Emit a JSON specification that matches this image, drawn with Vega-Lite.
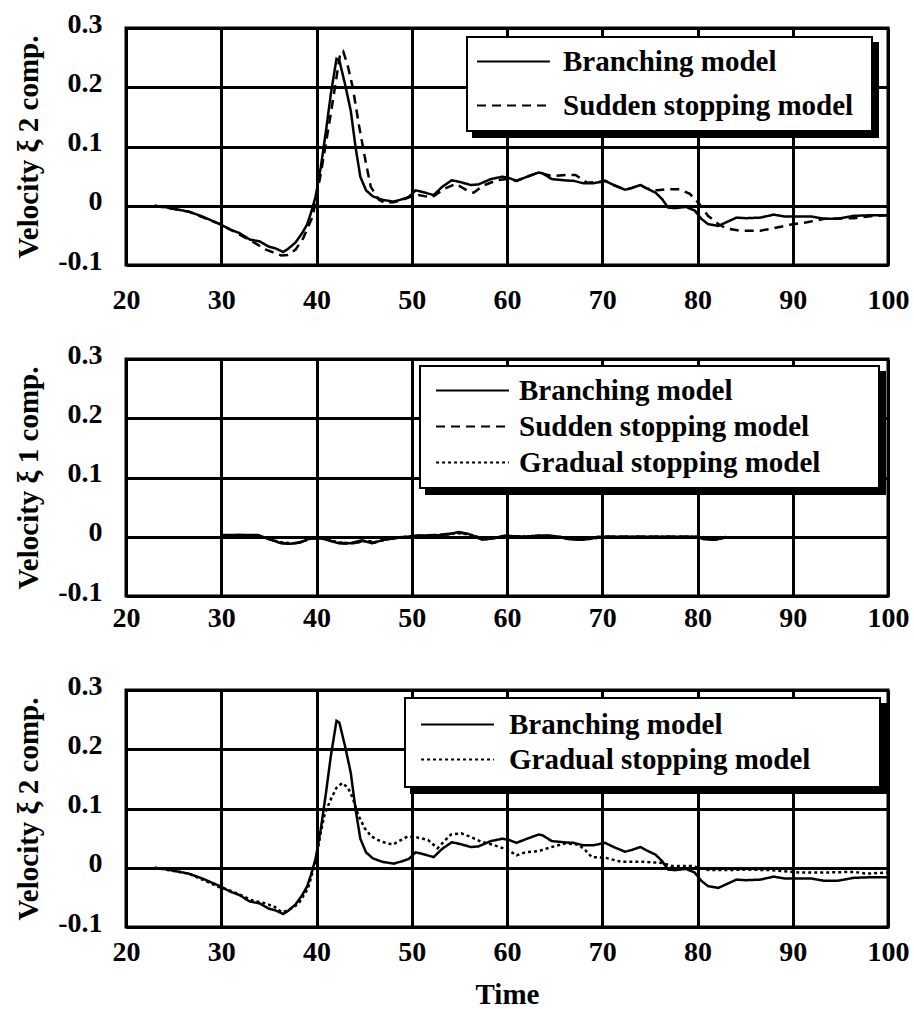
{
  "$schema": "https://vega.github.io/schema/vega-lite/v6.json",
  "padding": {"left": 13, "top": 8, "right": 5, "bottom": 5},
  "datasets": {
    "branching": [
      {"t": 23.0, "v": 0.000, "model": "Branching model"},
      {"t": 24.0, "v": -0.002, "model": "Branching model"},
      {"t": 25.0, "v": -0.005, "model": "Branching model"},
      {"t": 26.6, "v": -0.010, "model": "Branching model"},
      {"t": 28.0, "v": -0.018, "model": "Branching model"},
      {"t": 29.0, "v": -0.025, "model": "Branching model"},
      {"t": 30.0, "v": -0.032, "model": "Branching model"},
      {"t": 30.9, "v": -0.040, "model": "Branching model"},
      {"t": 31.9, "v": -0.046, "model": "Branching model"},
      {"t": 33.0, "v": -0.057, "model": "Branching model"},
      {"t": 34.0, "v": -0.060, "model": "Branching model"},
      {"t": 35.0, "v": -0.069, "model": "Branching model"},
      {"t": 35.7, "v": -0.072, "model": "Branching model"},
      {"t": 36.5, "v": -0.078, "model": "Branching model"},
      {"t": 37.0, "v": -0.073, "model": "Branching model"},
      {"t": 37.8, "v": -0.062, "model": "Branching model"},
      {"t": 38.5, "v": -0.046, "model": "Branching model"},
      {"t": 39.0, "v": -0.032, "model": "Branching model"},
      {"t": 39.4, "v": -0.013, "model": "Branching model"},
      {"t": 39.9, "v": 0.015, "model": "Branching model"},
      {"t": 40.45, "v": 0.065, "model": "Branching model"},
      {"t": 41.0, "v": 0.127, "model": "Branching model"},
      {"t": 41.5, "v": 0.188, "model": "Branching model"},
      {"t": 42.1, "v": 0.248, "model": "Branching model"},
      {"t": 42.4, "v": 0.245, "model": "Branching model"},
      {"t": 43.0, "v": 0.205, "model": "Branching model"},
      {"t": 43.6, "v": 0.160, "model": "Branching model"},
      {"t": 44.1, "v": 0.099, "model": "Branching model"},
      {"t": 44.6, "v": 0.049, "model": "Branching model"},
      {"t": 45.2, "v": 0.026, "model": "Branching model"},
      {"t": 45.9, "v": 0.016, "model": "Branching model"},
      {"t": 46.9, "v": 0.010, "model": "Branching model"},
      {"t": 48.1, "v": 0.007, "model": "Branching model"},
      {"t": 49.0, "v": 0.011, "model": "Branching model"},
      {"t": 49.7, "v": 0.015, "model": "Branching model"},
      {"t": 50.4, "v": 0.026, "model": "Branching model"},
      {"t": 51.2, "v": 0.023, "model": "Branching model"},
      {"t": 52.3, "v": 0.018, "model": "Branching model"},
      {"t": 53.2, "v": 0.032, "model": "Branching model"},
      {"t": 54.2, "v": 0.043, "model": "Branching model"},
      {"t": 55.1, "v": 0.040, "model": "Branching model"},
      {"t": 56.2, "v": 0.035, "model": "Branching model"},
      {"t": 57.0, "v": 0.036, "model": "Branching model"},
      {"t": 58.3, "v": 0.045, "model": "Branching model"},
      {"t": 59.5, "v": 0.049, "model": "Branching model"},
      {"t": 60.2, "v": 0.047, "model": "Branching model"},
      {"t": 61.0, "v": 0.042, "model": "Branching model"},
      {"t": 62.1, "v": 0.049, "model": "Branching model"},
      {"t": 63.3, "v": 0.056, "model": "Branching model"},
      {"t": 63.7, "v": 0.055, "model": "Branching model"},
      {"t": 64.7, "v": 0.045, "model": "Branching model"},
      {"t": 66.0, "v": 0.043, "model": "Branching model"},
      {"t": 67.0, "v": 0.042, "model": "Branching model"},
      {"t": 68.0, "v": 0.038, "model": "Branching model"},
      {"t": 69.1, "v": 0.038, "model": "Branching model"},
      {"t": 70.3, "v": 0.042, "model": "Branching model"},
      {"t": 71.2, "v": 0.035, "model": "Branching model"},
      {"t": 72.4, "v": 0.027, "model": "Branching model"},
      {"t": 73.1, "v": 0.030, "model": "Branching model"},
      {"t": 74.0, "v": 0.035, "model": "Branching model"},
      {"t": 74.7, "v": 0.029, "model": "Branching model"},
      {"t": 75.6, "v": 0.022, "model": "Branching model"},
      {"t": 76.3, "v": 0.011, "model": "Branching model"},
      {"t": 76.9, "v": -0.003, "model": "Branching model"},
      {"t": 77.6, "v": -0.004, "model": "Branching model"},
      {"t": 78.8, "v": -0.002, "model": "Branching model"},
      {"t": 79.7, "v": -0.008, "model": "Branching model"},
      {"t": 80.4, "v": -0.022, "model": "Branching model"},
      {"t": 81.1, "v": -0.031, "model": "Branching model"},
      {"t": 82.2, "v": -0.034, "model": "Branching model"},
      {"t": 83.0, "v": -0.028, "model": "Branching model"},
      {"t": 84.1, "v": -0.020, "model": "Branching model"},
      {"t": 85.1, "v": -0.021, "model": "Branching model"},
      {"t": 86.6, "v": -0.020, "model": "Branching model"},
      {"t": 88.0, "v": -0.015, "model": "Branching model"},
      {"t": 89.1, "v": -0.018, "model": "Branching model"},
      {"t": 90.1, "v": -0.018, "model": "Branching model"},
      {"t": 91.9, "v": -0.018, "model": "Branching model"},
      {"t": 93.3, "v": -0.022, "model": "Branching model"},
      {"t": 94.7, "v": -0.022, "model": "Branching model"},
      {"t": 96.4, "v": -0.017, "model": "Branching model"},
      {"t": 98.2, "v": -0.016, "model": "Branching model"},
      {"t": 100.0, "v": -0.016, "model": "Branching model"}
    ],
    "sudden": [
      {"t": 23.0, "v": 0.000, "model": "Sudden stopping model"},
      {"t": 26.6, "v": -0.010, "model": "Sudden stopping model"},
      {"t": 30.0, "v": -0.032, "model": "Sudden stopping model"},
      {"t": 33.0, "v": -0.058, "model": "Sudden stopping model"},
      {"t": 34.7, "v": -0.074, "model": "Sudden stopping model"},
      {"t": 36.3, "v": -0.084, "model": "Sudden stopping model"},
      {"t": 37.0, "v": -0.083, "model": "Sudden stopping model"},
      {"t": 37.8, "v": -0.074, "model": "Sudden stopping model"},
      {"t": 38.6, "v": -0.055, "model": "Sudden stopping model"},
      {"t": 39.6, "v": -0.018, "model": "Sudden stopping model"},
      {"t": 40.45, "v": 0.054, "model": "Sudden stopping model"},
      {"t": 41.5, "v": 0.155, "model": "Sudden stopping model"},
      {"t": 42.5, "v": 0.258, "model": "Sudden stopping model"},
      {"t": 42.8, "v": 0.261, "model": "Sudden stopping model"},
      {"t": 43.3, "v": 0.235, "model": "Sudden stopping model"},
      {"t": 43.8, "v": 0.200, "model": "Sudden stopping model"},
      {"t": 44.5, "v": 0.132, "model": "Sudden stopping model"},
      {"t": 45.2, "v": 0.071, "model": "Sudden stopping model"},
      {"t": 45.7, "v": 0.032, "model": "Sudden stopping model"},
      {"t": 46.55, "v": 0.010, "model": "Sudden stopping model"},
      {"t": 47.2, "v": 0.005, "model": "Sudden stopping model"},
      {"t": 48.1, "v": 0.006, "model": "Sudden stopping model"},
      {"t": 49.0, "v": 0.010, "model": "Sudden stopping model"},
      {"t": 50.0, "v": 0.016, "model": "Sudden stopping model"},
      {"t": 50.7, "v": 0.018, "model": "Sudden stopping model"},
      {"t": 52.1, "v": 0.014, "model": "Sudden stopping model"},
      {"t": 53.5, "v": 0.029, "model": "Sudden stopping model"},
      {"t": 54.6, "v": 0.037, "model": "Sudden stopping model"},
      {"t": 55.8, "v": 0.026, "model": "Sudden stopping model"},
      {"t": 56.5, "v": 0.022, "model": "Sudden stopping model"},
      {"t": 57.5, "v": 0.034, "model": "Sudden stopping model"},
      {"t": 58.95, "v": 0.043, "model": "Sudden stopping model"},
      {"t": 60.0, "v": 0.045, "model": "Sudden stopping model"},
      {"t": 61.0, "v": 0.042, "model": "Sudden stopping model"},
      {"t": 62.1, "v": 0.049, "model": "Sudden stopping model"},
      {"t": 63.3, "v": 0.056, "model": "Sudden stopping model"},
      {"t": 64.7, "v": 0.050, "model": "Sudden stopping model"},
      {"t": 66.3, "v": 0.052, "model": "Sudden stopping model"},
      {"t": 67.2, "v": 0.052, "model": "Sudden stopping model"},
      {"t": 68.4, "v": 0.039, "model": "Sudden stopping model"},
      {"t": 69.8, "v": 0.040, "model": "Sudden stopping model"},
      {"t": 70.3, "v": 0.042, "model": "Sudden stopping model"},
      {"t": 71.2, "v": 0.035, "model": "Sudden stopping model"},
      {"t": 72.4, "v": 0.027, "model": "Sudden stopping model"},
      {"t": 73.1, "v": 0.030, "model": "Sudden stopping model"},
      {"t": 74.0, "v": 0.035, "model": "Sudden stopping model"},
      {"t": 74.7, "v": 0.029, "model": "Sudden stopping model"},
      {"t": 75.8, "v": 0.026, "model": "Sudden stopping model"},
      {"t": 76.8, "v": 0.028, "model": "Sudden stopping model"},
      {"t": 78.1, "v": 0.028, "model": "Sudden stopping model"},
      {"t": 79.2, "v": 0.020, "model": "Sudden stopping model"},
      {"t": 80.2, "v": 0.003, "model": "Sudden stopping model"},
      {"t": 81.1, "v": -0.017, "model": "Sudden stopping model"},
      {"t": 82.2, "v": -0.031, "model": "Sudden stopping model"},
      {"t": 83.0, "v": -0.038, "model": "Sudden stopping model"},
      {"t": 84.4, "v": -0.042, "model": "Sudden stopping model"},
      {"t": 86.6, "v": -0.042, "model": "Sudden stopping model"},
      {"t": 88.0, "v": -0.038, "model": "Sudden stopping model"},
      {"t": 89.7, "v": -0.032, "model": "Sudden stopping model"},
      {"t": 91.5, "v": -0.028, "model": "Sudden stopping model"},
      {"t": 93.3, "v": -0.022, "model": "Sudden stopping model"},
      {"t": 96.4, "v": -0.021, "model": "Sudden stopping model"},
      {"t": 98.5, "v": -0.017, "model": "Sudden stopping model"},
      {"t": 100.0, "v": -0.016, "model": "Sudden stopping model"}
    ],
    "gradual": [
      {"t": 23.0, "v": 0.000, "model": "Gradual stopping model"},
      {"t": 26.6, "v": -0.010, "model": "Gradual stopping model"},
      {"t": 29.7, "v": -0.032, "model": "Gradual stopping model"},
      {"t": 30.8, "v": -0.038, "model": "Gradual stopping model"},
      {"t": 31.8, "v": -0.044, "model": "Gradual stopping model"},
      {"t": 33.2, "v": -0.055, "model": "Gradual stopping model"},
      {"t": 34.6, "v": -0.060, "model": "Gradual stopping model"},
      {"t": 35.6, "v": -0.066, "model": "Gradual stopping model"},
      {"t": 36.35, "v": -0.075, "model": "Gradual stopping model"},
      {"t": 37.0, "v": -0.072, "model": "Gradual stopping model"},
      {"t": 38.1, "v": -0.061, "model": "Gradual stopping model"},
      {"t": 39.1, "v": -0.035, "model": "Gradual stopping model"},
      {"t": 40.0, "v": 0.016, "model": "Gradual stopping model"},
      {"t": 40.4, "v": 0.056, "model": "Gradual stopping model"},
      {"t": 40.85, "v": 0.090, "model": "Gradual stopping model"},
      {"t": 41.4, "v": 0.112, "model": "Gradual stopping model"},
      {"t": 42.1, "v": 0.135, "model": "Gradual stopping model"},
      {"t": 42.7, "v": 0.143, "model": "Gradual stopping model"},
      {"t": 43.3, "v": 0.135, "model": "Gradual stopping model"},
      {"t": 43.8, "v": 0.118, "model": "Gradual stopping model"},
      {"t": 44.35, "v": 0.090, "model": "Gradual stopping model"},
      {"t": 45.05, "v": 0.067, "model": "Gradual stopping model"},
      {"t": 45.75, "v": 0.053, "model": "Gradual stopping model"},
      {"t": 46.8, "v": 0.044, "model": "Gradual stopping model"},
      {"t": 48.0, "v": 0.039, "model": "Gradual stopping model"},
      {"t": 48.9, "v": 0.047, "model": "Gradual stopping model"},
      {"t": 49.6, "v": 0.053, "model": "Gradual stopping model"},
      {"t": 50.6, "v": 0.051, "model": "Gradual stopping model"},
      {"t": 51.7, "v": 0.047, "model": "Gradual stopping model"},
      {"t": 52.7, "v": 0.033, "model": "Gradual stopping model"},
      {"t": 54.1, "v": 0.056, "model": "Gradual stopping model"},
      {"t": 55.2, "v": 0.058, "model": "Gradual stopping model"},
      {"t": 56.2, "v": 0.052, "model": "Gradual stopping model"},
      {"t": 57.3, "v": 0.044, "model": "Gradual stopping model"},
      {"t": 58.7, "v": 0.038, "model": "Gradual stopping model"},
      {"t": 60.1, "v": 0.030, "model": "Gradual stopping model"},
      {"t": 61.0, "v": 0.021, "model": "Gradual stopping model"},
      {"t": 61.9, "v": 0.026, "model": "Gradual stopping model"},
      {"t": 63.3, "v": 0.028, "model": "Gradual stopping model"},
      {"t": 64.7, "v": 0.035, "model": "Gradual stopping model"},
      {"t": 66.1, "v": 0.041, "model": "Gradual stopping model"},
      {"t": 67.5, "v": 0.039, "model": "Gradual stopping model"},
      {"t": 68.2, "v": 0.030, "model": "Gradual stopping model"},
      {"t": 68.9, "v": 0.018, "model": "Gradual stopping model"},
      {"t": 70.3, "v": 0.017, "model": "Gradual stopping model"},
      {"t": 72.0, "v": 0.010, "model": "Gradual stopping model"},
      {"t": 74.5, "v": 0.010, "model": "Gradual stopping model"},
      {"t": 76.3, "v": 0.008, "model": "Gradual stopping model"},
      {"t": 77.3, "v": 0.003, "model": "Gradual stopping model"},
      {"t": 79.4, "v": 0.003, "model": "Gradual stopping model"},
      {"t": 81.2, "v": -0.004, "model": "Gradual stopping model"},
      {"t": 83.0, "v": -0.004, "model": "Gradual stopping model"},
      {"t": 85.1, "v": -0.003, "model": "Gradual stopping model"},
      {"t": 87.6, "v": -0.004, "model": "Gradual stopping model"},
      {"t": 90.7, "v": -0.008, "model": "Gradual stopping model"},
      {"t": 93.6, "v": -0.008, "model": "Gradual stopping model"},
      {"t": 96.4, "v": -0.007, "model": "Gradual stopping model"},
      {"t": 97.8, "v": -0.010, "model": "Gradual stopping model"},
      {"t": 100.0, "v": -0.008, "model": "Gradual stopping model"}
    ],
    "xi1": [
      {"t": 30.0, "v": 0.003, "model": "Branching model"},
      {"t": 32.0, "v": 0.003, "model": "Branching model"},
      {"t": 33.8, "v": 0.003, "model": "Branching model"},
      {"t": 34.7, "v": -0.002, "model": "Branching model"},
      {"t": 36.1, "v": -0.010, "model": "Branching model"},
      {"t": 37.2, "v": -0.012, "model": "Branching model"},
      {"t": 38.2, "v": -0.010, "model": "Branching model"},
      {"t": 39.3, "v": -0.003, "model": "Branching model"},
      {"t": 40.7, "v": -0.003, "model": "Branching model"},
      {"t": 42.1, "v": -0.010, "model": "Branching model"},
      {"t": 43.5, "v": -0.011, "model": "Branching model"},
      {"t": 44.8, "v": -0.006, "model": "Branching model"},
      {"t": 45.8, "v": -0.011, "model": "Branching model"},
      {"t": 47.1, "v": -0.005, "model": "Branching model"},
      {"t": 48.5, "v": -0.002, "model": "Branching model"},
      {"t": 50.6, "v": 0.002, "model": "Branching model"},
      {"t": 52.4, "v": 0.002, "model": "Branching model"},
      {"t": 53.8, "v": 0.004, "model": "Branching model"},
      {"t": 54.9, "v": 0.008, "model": "Branching model"},
      {"t": 55.9, "v": 0.005, "model": "Branching model"},
      {"t": 57.4, "v": -0.005, "model": "Branching model"},
      {"t": 58.4, "v": -0.003, "model": "Branching model"},
      {"t": 59.8, "v": 0.002, "model": "Branching model"},
      {"t": 61.5, "v": 0.000, "model": "Branching model"},
      {"t": 63.4, "v": 0.002, "model": "Branching model"},
      {"t": 64.5, "v": 0.002, "model": "Branching model"},
      {"t": 65.5, "v": 0.000, "model": "Branching model"},
      {"t": 66.5, "v": -0.004, "model": "Branching model"},
      {"t": 67.5, "v": -0.005, "model": "Branching model"},
      {"t": 68.6, "v": -0.004, "model": "Branching model"},
      {"t": 69.5, "v": 0.000, "model": "Branching model"},
      {"t": 75.0, "v": 0.000, "model": "Branching model"},
      {"t": 80.0, "v": 0.000, "model": "Branching model"},
      {"t": 80.6, "v": -0.004, "model": "Branching model"},
      {"t": 81.5, "v": -0.005, "model": "Branching model"},
      {"t": 82.6, "v": -0.003, "model": "Branching model"},
      {"t": 83.0, "v": 0.000, "model": "Branching model"},
      {"t": 30.0, "v": 0.002, "model": "Sudden stopping model"},
      {"t": 32.0, "v": 0.003, "model": "Sudden stopping model"},
      {"t": 34.0, "v": 0.002, "model": "Sudden stopping model"},
      {"t": 35.0, "v": -0.004, "model": "Sudden stopping model"},
      {"t": 36.3, "v": -0.011, "model": "Sudden stopping model"},
      {"t": 37.4, "v": -0.012, "model": "Sudden stopping model"},
      {"t": 38.4, "v": -0.009, "model": "Sudden stopping model"},
      {"t": 39.5, "v": -0.002, "model": "Sudden stopping model"},
      {"t": 40.9, "v": -0.004, "model": "Sudden stopping model"},
      {"t": 42.3, "v": -0.011, "model": "Sudden stopping model"},
      {"t": 43.6, "v": -0.012, "model": "Sudden stopping model"},
      {"t": 45.0, "v": -0.007, "model": "Sudden stopping model"},
      {"t": 46.0, "v": -0.010, "model": "Sudden stopping model"},
      {"t": 47.3, "v": -0.004, "model": "Sudden stopping model"},
      {"t": 48.7, "v": -0.001, "model": "Sudden stopping model"},
      {"t": 50.8, "v": 0.002, "model": "Sudden stopping model"},
      {"t": 52.6, "v": 0.003, "model": "Sudden stopping model"},
      {"t": 54.0, "v": 0.005, "model": "Sudden stopping model"},
      {"t": 55.0, "v": 0.007, "model": "Sudden stopping model"},
      {"t": 56.1, "v": 0.004, "model": "Sudden stopping model"},
      {"t": 57.5, "v": -0.005, "model": "Sudden stopping model"},
      {"t": 58.6, "v": -0.002, "model": "Sudden stopping model"},
      {"t": 60.0, "v": 0.001, "model": "Sudden stopping model"},
      {"t": 62.0, "v": 0.000, "model": "Sudden stopping model"},
      {"t": 63.6, "v": 0.002, "model": "Sudden stopping model"},
      {"t": 64.7, "v": 0.001, "model": "Sudden stopping model"},
      {"t": 66.7, "v": -0.004, "model": "Sudden stopping model"},
      {"t": 67.7, "v": -0.005, "model": "Sudden stopping model"},
      {"t": 68.8, "v": -0.003, "model": "Sudden stopping model"},
      {"t": 70.0, "v": 0.000, "model": "Sudden stopping model"},
      {"t": 80.0, "v": 0.000, "model": "Sudden stopping model"},
      {"t": 80.8, "v": -0.004, "model": "Sudden stopping model"},
      {"t": 81.7, "v": -0.005, "model": "Sudden stopping model"},
      {"t": 82.8, "v": -0.002, "model": "Sudden stopping model"},
      {"t": 83.0, "v": 0.000, "model": "Sudden stopping model"},
      {"t": 30.0, "v": 0.002, "model": "Gradual stopping model"},
      {"t": 32.5, "v": 0.002, "model": "Gradual stopping model"},
      {"t": 34.2, "v": 0.001, "model": "Gradual stopping model"},
      {"t": 35.2, "v": -0.005, "model": "Gradual stopping model"},
      {"t": 36.5, "v": -0.010, "model": "Gradual stopping model"},
      {"t": 37.6, "v": -0.011, "model": "Gradual stopping model"},
      {"t": 38.6, "v": -0.008, "model": "Gradual stopping model"},
      {"t": 39.6, "v": -0.002, "model": "Gradual stopping model"},
      {"t": 41.0, "v": -0.004, "model": "Gradual stopping model"},
      {"t": 42.5, "v": -0.010, "model": "Gradual stopping model"},
      {"t": 43.8, "v": -0.011, "model": "Gradual stopping model"},
      {"t": 45.2, "v": -0.007, "model": "Gradual stopping model"},
      {"t": 46.2, "v": -0.009, "model": "Gradual stopping model"},
      {"t": 47.5, "v": -0.004, "model": "Gradual stopping model"},
      {"t": 48.9, "v": -0.001, "model": "Gradual stopping model"},
      {"t": 51.0, "v": 0.001, "model": "Gradual stopping model"},
      {"t": 52.8, "v": 0.003, "model": "Gradual stopping model"},
      {"t": 54.2, "v": 0.005, "model": "Gradual stopping model"},
      {"t": 55.2, "v": 0.006, "model": "Gradual stopping model"},
      {"t": 56.3, "v": 0.003, "model": "Gradual stopping model"},
      {"t": 57.7, "v": -0.004, "model": "Gradual stopping model"},
      {"t": 58.8, "v": -0.002, "model": "Gradual stopping model"},
      {"t": 60.2, "v": 0.001, "model": "Gradual stopping model"},
      {"t": 62.2, "v": 0.000, "model": "Gradual stopping model"},
      {"t": 63.8, "v": 0.001, "model": "Gradual stopping model"},
      {"t": 65.0, "v": 0.001, "model": "Gradual stopping model"},
      {"t": 66.9, "v": -0.003, "model": "Gradual stopping model"},
      {"t": 67.9, "v": -0.004, "model": "Gradual stopping model"},
      {"t": 69.0, "v": -0.003, "model": "Gradual stopping model"},
      {"t": 70.2, "v": 0.000, "model": "Gradual stopping model"},
      {"t": 80.0, "v": 0.000, "model": "Gradual stopping model"},
      {"t": 81.0, "v": -0.003, "model": "Gradual stopping model"},
      {"t": 81.9, "v": -0.004, "model": "Gradual stopping model"},
      {"t": 83.0, "v": 0.000, "model": "Gradual stopping model"}
    ]
  },
  "spacing": 94,
  "bounds": "flush",
  "resolve": {"scale": {"strokeDash": "independent", "stroke": "independent"}, "legend": {"strokeDash": "independent", "stroke": "independent"}},
  "vconcat": [
    {
      "width": 762, "height": 237,
      "encoding": {
        "x": {"field": "t", "type": "quantitative", "scale": {"domain": [20, 100], "nice": false}, "axis": {"title": null, "labelPadding": 21, "values": [20, 30, 40, 50, 60, 70, 80, 90, 100]}},
        "y": {"field": "v", "type": "quantitative", "scale": {"domain": [-0.1, 0.3], "nice": false}, "axis": {"title": "Velocity ξ 2 comp.", "values": [-0.1, 0, 0.1, 0.2, 0.3]}}
      },
      "layer": [
        {
          "data": {"name": "branching"},
          "mark": {"type": "line", "color": "black", "strokeWidth": 2.5},
          "encoding": {
            "strokeDash": {"field": "model", "type": "nominal", "scale": {"domain": ["Branching model", "Sudden stopping model"], "range": [[1, 0], [9, 6]]},
              "legend": {"orient": "none", "legendX": 341, "legendY": 9, "zindex": 2, "padding": 10, "symbolType": "M-2.7,0H2.7", "symbolOffset": 22, "labelOffset": 35, "rowPadding": 14, "title": "\u2003", "titleOrient": "right", "titleFontSize": 10, "titlePadding": 9, "fillColor": "white"}},
            "stroke": {"field": "model", "type": "nominal", "scale": {"domain": ["Sudden stopping model", "Branching model"], "range": ["black", "black"]},
              "legend": {"orient": "none", "legendX": 347, "legendY": 15, "zindex": 1, "padding": 10, "symbolType": "M-2.7,0H2.7", "symbolOffset": 22, "labelOffset": 35, "rowPadding": 14, "title": "\u2003", "titleOrient": "right", "titleFontSize": 10, "titlePadding": 299, "fillColor": "black", "labelExpr": "''"}}
          }
        },
        {
          "data": {"name": "sudden"},
          "mark": {"type": "line", "color": "black", "strokeWidth": 2.5},
          "encoding": {
            "strokeDash": {"field": "model", "type": "nominal"},
            "stroke": {"field": "model", "type": "nominal"}
          }
        },
        {
          "data": {"values": [{"label": "(a)"}]},
          "mark": {"type": "text", "align": "left", "baseline": "middle", "font": "Liberation Serif", "fontWeight": "bold", "fontSize": 30, "color": "black"},
          "encoding": {"x": {"datum": 22}, "y": {"datum": 0.245}, "text": {"field": "label"}}
        }
      ]
    },
    {
      "width": 762, "height": 237,
      "encoding": {
        "x": {"field": "t", "type": "quantitative", "scale": {"domain": [20, 100], "nice": false}, "axis": {"title": null, "labelPadding": 8, "values": [20, 30, 40, 50, 60, 70, 80, 90, 100]}},
        "y": {"field": "v", "type": "quantitative", "scale": {"domain": [-0.1, 0.3], "nice": false}, "axis": {"title": "Velocity ξ 1 comp.", "values": [-0.1, 0, 0.1, 0.2, 0.3]}}
      },
      "layer": [
        {
          "data": {"name": "xi1"},
          "mark": {"type": "line", "color": "black", "strokeWidth": 2.5},
          "encoding": {
            "strokeDash": {"field": "model", "type": "nominal", "scale": {"domain": ["Branching model", "Sudden stopping model", "Gradual stopping model"], "range": [[1, 0], [9, 6], [3, 3]]},
              "legend": {"orient": "none", "legendX": 294, "legendY": 7, "zindex": 2, "padding": 10, "symbolType": "M-2.7,0H2.7", "symbolOffset": 28, "labelOffset": 32, "rowPadding": 6, "title": "\u2003", "titleOrient": "right", "titleFontSize": 10, "titlePadding": 49, "fillColor": "white"}},
            "stroke": {"field": "model", "type": "nominal", "scale": {"domain": ["Gradual stopping model", "Sudden stopping model", "Branching model"], "range": ["black", "black", "black"]},
              "legend": {"orient": "none", "legendX": 300, "legendY": 13, "zindex": 1, "padding": 10, "symbolType": "M-2.7,0H2.7", "symbolOffset": 28, "labelOffset": 32, "rowPadding": 6, "title": "\u2003", "titleOrient": "right", "titleFontSize": 10, "titlePadding": 350, "fillColor": "black", "labelExpr": "''"}}
          }
        },
        {
          "data": {"values": [{"label": "(b)"}]},
          "mark": {"type": "text", "align": "left", "baseline": "middle", "font": "Liberation Serif", "fontWeight": "bold", "fontSize": 30, "color": "black"},
          "encoding": {"x": {"datum": 21.7}, "y": {"datum": 0.244}, "text": {"field": "label"}}
        }
      ]
    },
    {
      "width": 762, "height": 237,
      "encoding": {
        "x": {"field": "t", "type": "quantitative", "scale": {"domain": [20, 100], "nice": false}, "axis": {"title": "Time", "labelPadding": 11, "titlePadding": 14, "values": [20, 30, 40, 50, 60, 70, 80, 90, 100]}},
        "y": {"field": "v", "type": "quantitative", "scale": {"domain": [-0.1, 0.3], "nice": false}, "axis": {"title": "Velocity ξ 2 comp.", "values": [-0.1, 0, 0.1, 0.2, 0.3]}}
      },
      "layer": [
        {
          "data": {"name": "branching"},
          "mark": {"type": "line", "color": "black", "strokeWidth": 2.5},
          "encoding": {
            "strokeDash": {"field": "model", "type": "nominal", "scale": {"domain": ["Branching model", "Gradual stopping model"], "range": [[1, 0], [3, 3]]},
              "legend": {"orient": "none", "legendX": 279, "legendY": 8, "zindex": 2, "padding": 12, "symbolType": "M-2.7,0H2.7", "symbolOffset": 26, "labelOffset": 37, "rowPadding": 5, "title": "\u2003", "titleOrient": "right", "titleFontSize": 10, "titlePadding": 58, "fillColor": "white"}},
            "stroke": {"field": "model", "type": "nominal", "scale": {"domain": ["Gradual stopping model", "Branching model"], "range": ["black", "black"]},
              "legend": {"orient": "none", "legendX": 285, "legendY": 14, "zindex": 1, "padding": 12, "symbolType": "M-2.7,0H2.7", "symbolOffset": 26, "labelOffset": 37, "rowPadding": 5, "title": "\u2003", "titleOrient": "right", "titleFontSize": 10, "titlePadding": 359, "fillColor": "black", "labelExpr": "''"}}
          }
        },
        {
          "data": {"name": "gradual"},
          "mark": {"type": "line", "color": "black", "strokeWidth": 2.5},
          "encoding": {
            "strokeDash": {"field": "model", "type": "nominal"},
            "stroke": {"field": "model", "type": "nominal"}
          }
        },
        {
          "data": {"values": [{"label": "(c)"}]},
          "mark": {"type": "text", "align": "left", "baseline": "middle", "font": "Liberation Serif", "fontWeight": "bold", "fontSize": 30, "color": "black"},
          "encoding": {"x": {"datum": 22.2}, "y": {"datum": 0.244}, "text": {"field": "label"}}
        }
      ]
    }
  ],
  "config": {
    "font": "Liberation Serif",
    "view": {"stroke": "black", "strokeWidth": 3},
    "axis": {
      "grid": true, "gridColor": "black", "gridWidth": 3, "gridOpacity": 1,
      "domain": false, "ticks": false, "labelFlush": false,
      "labelFont": "Liberation Serif", "labelFontWeight": "bold", "labelFontSize": 28, "labelColor": "black",
      "titleFont": "Liberation Serif", "titleFontWeight": "bold", "titleFontSize": 29, "titleColor": "black"
    },
    "axisX": {"format": "d"},
    "axisY": {"labelPadding": 24, "labelOffset": -4, "titlePadding": 14,
      "labelExpr": "datum.value < 0 ? '-' + format(-datum.value, '.1~f') : format(datum.value, '.1~f')"},
    "legend": {
      "strokeColor": "black", "strokeWidth": 2,
      "symbolSize": 729, "symbolStrokeWidth": 2, "symbolStrokeColor": "black",
      "labelFont": "Liberation Serif", "labelFontWeight": "bold", "labelFontSize": 29, "labelColor": "black", "labelLimit": 0,
      "titleColor": "black", "titleFont": "Liberation Serif"
    }
  }
}
